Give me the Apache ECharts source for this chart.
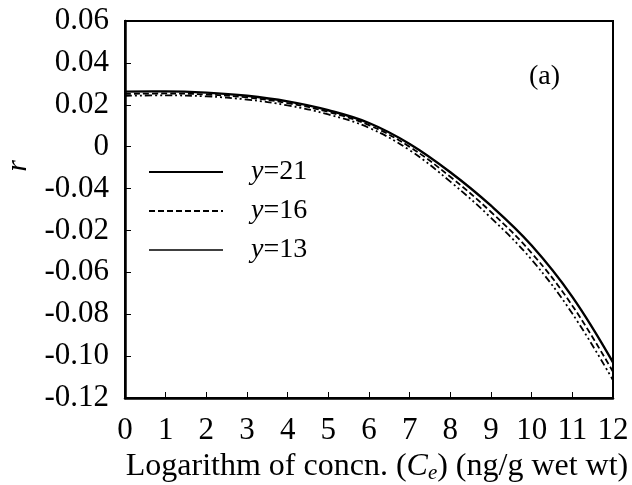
<!DOCTYPE html>
<html>
<head>
<meta charset="utf-8">
<script src="https://cdn.jsdelivr.net/npm/echarts@6/dist/echarts.min.js"></script>
<style>
html, body { margin: 0; padding: 0; background: #fff; }
#main { width: 632px; height: 485px; }
</style>
</head>
<body>
<div id="main"></div>
<script>
// x values (log concn.)
var xValues = [0, 1, 2, 3, 4, 5, 6, 7, 8, 9, 10, 11, 12];
// r for each y
var r21 = [0.0263, 0.0264, 0.0258, 0.0243, 0.0216, 0.0174, 0.0113, 0.0013, -0.0122, -0.0282, -0.0472, -0.0717, -0.1030];
var r16 = [0.0252, 0.0254, 0.0249, 0.0235, 0.0208, 0.0166, 0.0103, -0.0001, -0.0144, -0.0312, -0.0508, -0.0759, -0.1075];
var r13 = [0.0243, 0.0245, 0.0240, 0.0225, 0.0197, 0.0154, 0.0090, -0.0017, -0.0167, -0.0340, -0.0540, -0.0797, -0.1115];
var seriesNames = ['y=21', 'y=16', 'y=13'];
// y tick labels as printed, top to bottom
var yTickLabels = ['0.06', '0.04', '0.02', '0', '-0.04', '-0.02', '-0.06', '-0.08', '-0.10', '-0.12'];

function pairs(ys) {
	return xValues.map(function (x, i) { return [x, ys[i]]; });
}

var font = 'Liberation Serif';
var myChart = echarts.init(document.getElementById('main'));
var option = {
	backgroundColor: '#fff',
	animation: false,
	color: ['#000', '#000', '#000'],
	textStyle: { fontFamily: font, color: '#000' },
	title: {
		text: '(a)',
		left: 524,
		top: 58,
		textStyle: { fontFamily: font, fontSize: 28, fontWeight: 'normal', color: '#000' }
	},
	graphic: [
		{
			type: 'text',
			left: 3,
			top: 160,
			rotation: Math.PI / 2,
			style: { text: 'r', font: 'italic 30px "Liberation Serif"', fill: '#000' }
		}
	],
	grid: {
		left: 125,
		right: 19,
		top: 21,
		bottom: 87,
		outerBoundsMode: 'none',
		containLabel: false,
		show: true,
		borderColor: '#000',
		borderWidth: 2
	},
	legend: {
		orient: 'vertical',
		left: 143,
		top: 153,
		itemWidth: 74,
		itemHeight: 14,
		itemGap: 11,
		itemStyle: { opacity: 0 },
		data: [
			{ name: seriesNames[0] },
			{ name: seriesNames[1] },
			{ name: seriesNames[2], lineStyle: { type: 'solid', width: 1.5, color: '#000' } }
		],
		formatter: function (name) {
			return '{i|y}{n|' + name.slice(1) + '}';
		},
		textStyle: {
			padding: [0, 0, 0, 23],
			rich: {
				i: { fontFamily: font, fontSize: 28, fontStyle: 'italic', color: '#000' },
				n: { fontFamily: font, fontSize: 28, color: '#000' }
			}
		}
	},
	xAxis: {
		type: 'value',
		min: 0,
		max: 12,
		interval: 1,
		name: '{n|Logarithm of concn. (}{i|C}{s|e}{n|) (ng/g wet wt)}',
		nameLocation: 'middle',
		nameGap: 51,
		nameTextStyle: {
			padding: [0, 0, 0, 16],
			rich: {
				n: { fontFamily: font, fontSize: 32, color: '#000' },
				i: { fontFamily: font, fontSize: 32, fontStyle: 'italic', color: '#000' },
				s: { fontFamily: font, fontSize: 21, fontStyle: 'italic', color: '#000', padding: [14, 0, 0, 0] }
			}
		},
		axisLine: { onZero: false, lineStyle: { color: '#000', width: 2.5 } },
		axisTick: { inside: true, length: 6, lineStyle: { color: '#000', width: 1 } },
		axisLabel: { fontFamily: font, fontSize: 31, color: '#000', margin: 17 },
		splitLine: { show: false }
	},
	yAxis: {
		type: 'value',
		min: -0.12,
		max: 0.06,
		interval: 0.02,
		axisLine: { onZero: false, lineStyle: { color: '#000', width: 2.5 } },
		axisTick: { inside: true, length: 6, lineStyle: { color: '#000', width: 1 } },
		axisLabel: {
			fontFamily: font,
			fontSize: 31,
			color: '#000',
			margin: 16,
			formatter: function (v) {
				var idx = Math.round((0.06 - v) / 0.02);
				return yTickLabels[idx];
			}
		},
		splitLine: { show: false }
	},
	series: [
		{
			name: seriesNames[0],
			type: 'line',
			smooth: 0.4,
			symbol: 'none',
			data: pairs(r21),
			itemStyle: { color: '#000' },
			lineStyle: { color: '#000', width: 2.4, type: 'solid' }
		},
		{
			name: seriesNames[1],
			type: 'line',
			smooth: 0.4,
			symbol: 'none',
			data: pairs(r16),
			itemStyle: { color: '#000' },
			lineStyle: { color: '#000', width: 1.8, type: [6, 3] }
		},
		{
			name: seriesNames[2],
			type: 'line',
			smooth: 0.4,
			symbol: 'none',
			data: pairs(r13),
			itemStyle: { color: '#000' },
			lineStyle: { color: '#000', width: 1.8, type: [7, 3, 2, 3, 2, 3] }
		}
	]
};
myChart.setOption(option);
</script>
</body>
</html>
